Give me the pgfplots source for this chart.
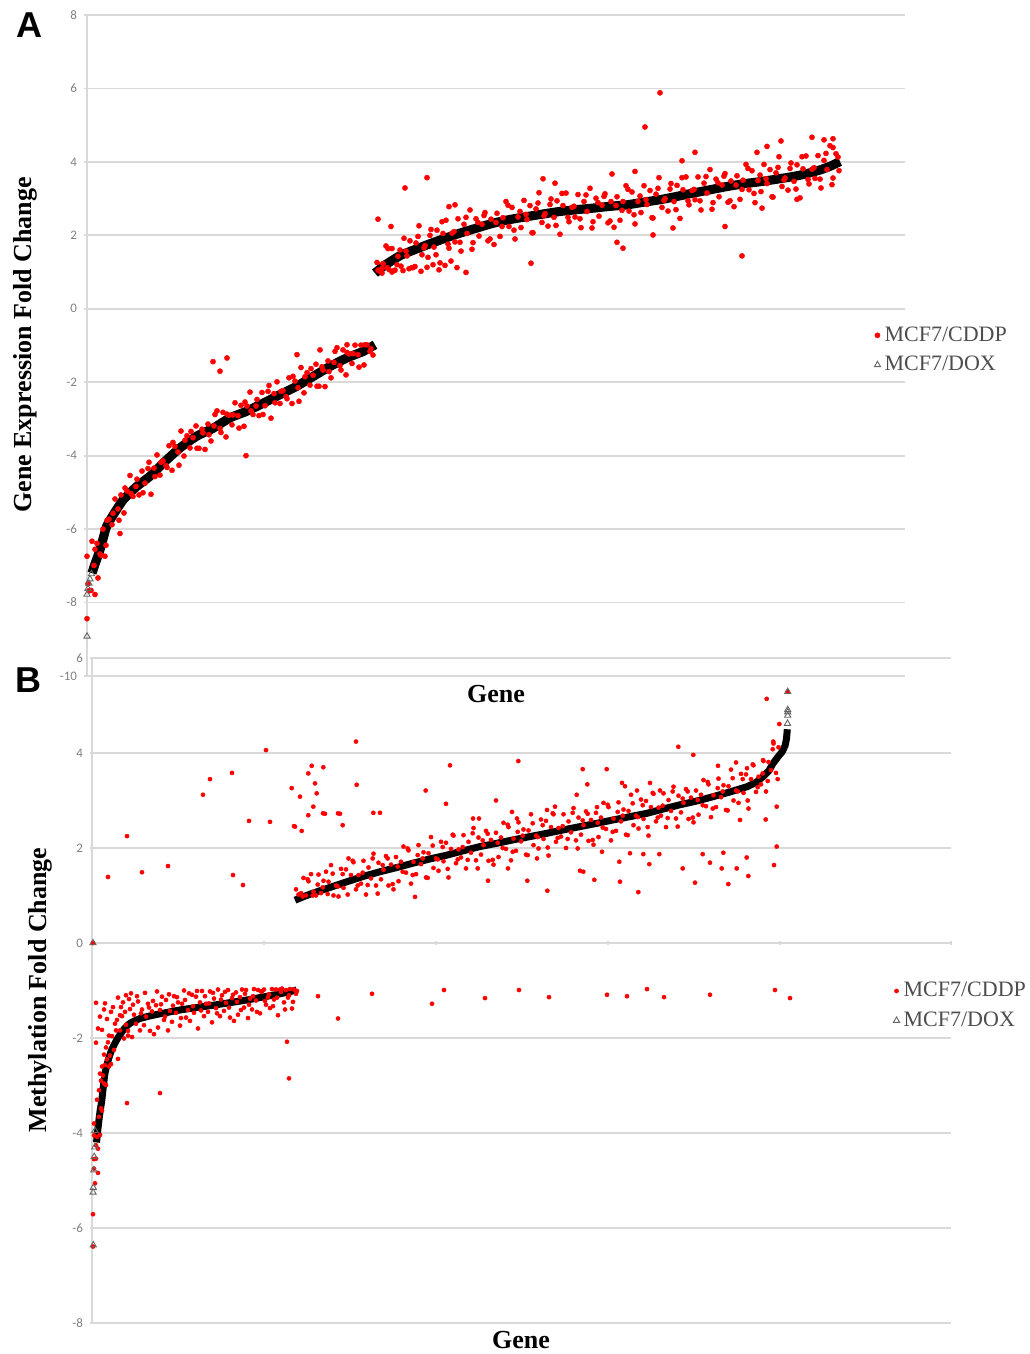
\documentclass[border=0pt]{standalone}
\usepackage{pgfplots}
\pgfplotsset{compat=1.18}
\usepackage{fontspec}
\setmainfont{Liberation Serif}
\newfontfamily\ticksfont{Carlito}
\newfontfamily\panelfont{Liberation Sans}
\definecolor{gridgray}{HTML}{D9D9D9}
\definecolor{tickgray}{HTML}{808080}
\definecolor{legtext}{HTML}{4D4D4D}
\pgfplotsset{
  common/.style={
    scale only axis, clip=false,
    ymajorgrids, grid style={gridgray, line width=0.9pt},
    tick style={draw=gridgray, line width=0.9pt},
    tick align=outside,
    /pgf/number format/assume math mode=true,
    yticklabel style={font=\ticksfont\fontsize{6.5}{7}\selectfont, text=tickgray},
    legend cell align=left,
    legend image code/.code={\draw[#1] plot coordinates {(0pt,0pt)};},
  },
  redA/.style={only marks, color=red, mark=*, mark size=1.3pt, mark options={solid, draw=red, fill=red, line width=0.2pt}},
  redB/.style={only marks, color=red, mark=*, mark size=1.05pt, mark options={solid, draw=red, fill=red, line width=0.2pt}},
  dox/.style={only marks, color=black!60, mark=triangle, mark size=1.8pt, mark options={solid, draw=black!60, line width=0.45pt, fill=none}},
}
\begin{document}
\begin{tikzpicture}
\useasboundingbox (0,0) rectangle (514.5pt,677pt);
% ---------------- Panel A ----------------
\begin{axis}[common,
  at={(43.5pt,339pt)}, anchor=south west,
  width=409pt, height=330.5pt,
  xmin=0, xmax=818, ymin=-10, ymax=8,
  ytick={-10,-8,...,8},
  axis y line=left, axis x line=none,
  axis line style={-, draw=gridgray, line width=0.9pt},
  y axis line style={-}, 
  major tick length=3pt,
  legend style={at={(0.962,0.493)}, anchor=west, draw=none, fill=none,
    font=\fontsize{11}{13}\selectfont, text=legtext, row sep=2pt, inner sep=0pt},
]
\addplot[redA] coordinates {
(1,-7.49) (4,-7.67) (7,-6.99) (10,-6.39) (13,-6.68) (16,-6.00) (19,-6.44) (22,-5.73) (25,-5.88) (28,-5.18)
(31,-5.45) (34,-5.07) (37,-5.56) (40,-4.96) (43,-4.54) (46,-5.11) (49,-4.84) (52,-5.07) (55,-4.42) (58,-4.75)
(61,-4.35) (64,-5.05) (67,-4.34) (70,-3.98) (73,-4.53) (76,-4.14) (79,-4.27) (82,-3.73) (85,-4.40) (88,-3.75)
(91,-3.90) (94,-3.33) (97,-4.01) (100,-3.46) (103,-3.79) (106,-3.51) (109,-3.19) (112,-3.80) (115,-3.28) (118,-3.83)
(121,-3.14) (124,-3.60) (127,-3.19) (130,-2.78) (133,-3.26) (136,-2.82) (139,-3.49) (142,-2.90) (145,-3.16) (148,-2.56)
(151,-2.91) (154,-2.63) (157,-3.20) (160,-2.65) (163,-2.27) (166,-2.88) (169,-2.65) (172,-2.91) (175,-2.28) (178,-2.64)
(181,-2.25) (184,-2.98) (187,-2.31) (190,-1.99) (193,-2.58) (196,-2.23) (199,-2.39) (202,-1.88) (205,-2.58) (208,-1.97)
(211,-2.15) (214,-1.60) (217,-2.29) (220,-1.74) (223,-2.08) (226,-1.81) (229,-1.51) (232,-2.11) (235,-1.58) (238,-2.12)
(241,-1.42) (244,-1.88) (247,-1.46) (250,-1.06) (253,-1.55) (256,-1.12) (259,-1.80) (262,-1.23) (265,-1.49) (268,-0.99)
(271,-1.25) (274,-0.99) (277,-1.53) (280,-0.98) (283,-1.16) (286,-1.26)
(2,-7.68) (8,-6.55) (14,-6.71) (20,-5.76) (26,-5.57) (32,-5.76) (38,-4.88) (44,-5.03) (50,-4.64) (56,-5.01)
(62,-4.18) (68,-4.57) (74,-4.18) (80,-4.32) (86,-3.64) (92,-4.26) (98,-3.58) (104,-3.34) (110,-3.80) (116,-3.38)
(122,-3.43) (128,-2.88) (134,-3.37) (140,-2.87) (146,-2.89) (152,-3.25) (158,-2.54) (164,-2.78) (170,-2.47) (176,-2.88)
(182,-2.09) (188,-2.56) (194,-2.25) (200,-2.45) (206,-1.84) (212,-2.52) (218,-1.85) (224,-1.63) (230,-2.11) (236,-1.67)
(242,-1.71) (248,-1.16) (254,-1.67) (260,-1.19) (266,-1.22) (272,-1.59) (278,-0.98) (284,-1.09)
(0,-8.44) (8,-7.78) (11,-7.33) (18,-6.74) (33,-6.12) (5,-6.33) (0,-6.74) (126,-1.44) (140,-1.34) (133,-1.70)
(159,-4.00) (233,-1.12) (260,-0.98) (210,-1.25)
(290,1.26) (293,1.02) (296,1.23) (299,1.71) (302,1.07) (305,1.64) (308,1.05) (311,1.43) (314,1.16) (317,1.92)
(320,1.44) (323,1.85) (326,1.12) (329,1.79) (332,2.26) (335,1.47) (338,1.72) (341,1.40) (344,2.16) (347,1.68)
(350,2.14) (353,1.25) (356,2.05) (359,2.41) (362,1.65) (365,2.06) (368,1.82) (371,2.45) (374,1.57) (377,2.30)
(380,2.05) (383,2.69) (386,1.80) (389,2.45) (392,1.98) (395,2.30) (398,2.62) (401,1.85) (404,2.44) (407,1.75)
(410,2.60) (413,1.97) (416,2.48) (419,2.92) (422,2.24) (425,2.76) (428,1.90) (431,2.50) (434,2.21) (437,2.95)
(440,2.43) (443,2.81) (446,2.07) (449,2.72) (452,3.16) (455,2.35) (458,2.59) (461,2.25) (464,2.99) (467,2.49)
(470,2.94) (473,2.03) (476,2.81) (479,3.15) (482,2.37) (485,2.76) (488,2.50) (491,3.11) (494,2.21) (497,2.92)
(500,2.65) (503,3.28) (506,2.37) (509,3.01) (512,2.52) (515,2.82) (518,3.13) (521,2.34) (524,2.92) (527,2.22)
(530,3.05) (533,2.41) (536,2.92) (539,3.35) (542,2.66) (545,3.18) (548,2.31) (551,2.92) (554,2.62) (557,3.35)
(560,2.84) (563,3.22) (566,2.47) (569,3.12) (572,3.57) (575,2.76) (578,3.00) (581,2.66) (584,3.41) (587,2.92)
(590,3.36) (593,2.46) (596,3.24) (599,3.59) (602,2.83) (605,3.22) (608,2.97) (611,3.59) (614,2.69) (617,3.42)
(620,3.15) (623,3.79) (626,2.89) (629,3.53) (632,3.05) (635,3.37) (638,3.68) (641,2.90) (644,3.48) (647,2.78)
(650,3.62) (653,2.98) (656,3.50) (659,3.93) (662,3.24) (665,3.76) (668,2.89) (671,3.49) (674,3.19) (677,3.93)
(680,3.41) (683,3.79) (686,3.04) (689,3.70) (692,4.14) (695,3.33) (698,3.56) (701,3.23) (704,3.97) (707,3.47)
(710,3.92) (713,3.02) (716,3.81) (719,4.16) (722,3.40) (725,3.80) (728,3.55) (731,4.17) (734,3.29) (737,4.04)
(740,3.79) (743,4.44) (746,3.56) (749,4.22) (752,3.76)
(295,0.97) (301,1.64) (307,1.04) (313,1.60) (319,1.57) (325,1.12) (331,1.97) (337,1.66) (343,2.00) (349,1.47)
(355,2.37) (361,1.76) (367,2.10) (373,1.81) (379,2.49) (385,1.62) (391,2.35) (397,2.54) (403,1.90) (409,2.35)
(415,2.24) (421,2.82) (427,2.14) (433,2.65) (439,2.57) (445,2.07) (451,2.88) (457,2.53) (463,2.84) (469,2.27)
(475,3.14) (481,2.49) (487,2.79) (493,2.45) (499,3.10) (505,2.20) (511,2.89) (517,3.06) (523,2.39) (529,2.81)
(535,2.68) (541,3.25) (547,2.56) (553,3.07) (559,2.97) (565,2.48) (571,3.28) (577,2.95) (583,3.26) (589,2.70)
(595,3.57) (601,2.94) (607,3.25) (613,2.94) (619,3.60) (625,2.71) (631,3.43) (637,3.61) (643,2.94) (649,3.37)
(655,3.25) (661,3.82) (667,3.14) (673,3.64) (679,3.54) (685,3.05) (691,3.85) (697,3.51) (703,3.82) (709,3.26)
(715,4.14) (721,3.52) (727,3.84) (733,3.53) (739,4.23) (745,3.38) (751,4.13)
(725,4.67) (737,4.60) (746,4.63) (746,4.39) (694,4.57) (680,4.42) (670,4.26) (608,4.26) (595,4.03)
(573,5.88) (558,4.95) (318,3.29) (340,3.57) (291,2.44) (304,2.24) (655,1.44) (638,2.24) (566,2.01) (530,1.81)
(536,1.65) (444,1.24) (379,0.99) (362,2.78) (368,2.83) (456,3.54) (468,3.42) (548,3.74) (525,3.67) (586,2.20)
(710,2.98) (675,2.74)
(291,1.05) (295,1.10) (300,1.12) (305,1.00) (310,1.20) (316,1.04) (322,1.09) (328,1.15) (334,1.02) (340,1.13)
(346,1.20) (352,1.06) (358,1.18) (364,1.30) (370,1.12)
};
\addlegendentry{MCF7/CDDP}
\addplot[forget plot, black, line width=4.6pt, line join=round, smooth, tension=0.35] coordinates {
(5,-7.20) (8,-6.95) (10,-6.80) (13,-6.56) (16.5,-6.22) (19.7,-5.92) (26.3,-5.61) (36.3,-5.20) (49.7,-4.84) (63,-4.56)
(76.3,-4.20) (93,-3.79) (109.7,-3.47) (126.3,-3.25) (143,-2.97) (159.7,-2.79) (176.3,-2.57) (193,-2.34) (209.7,-2.11)
(226.3,-1.84) (243,-1.57) (259.7,-1.34) (276.3,-1.16) (288,-0.98)
};
\addplot[forget plot, black, line width=4.6pt, line join=round, smooth, tension=0.35] coordinates {
(288,0.97) (297,1.17) (306,1.33) (314,1.46) (323,1.56) (340,1.74) (356,1.90) (373,2.06) (390,2.20) (406,2.33)
(423,2.43) (440,2.51) (456,2.58) (473,2.65) (490,2.70) (506,2.74) (523,2.79) (540,2.83) (556,2.90) (573,2.97)
(590,3.06) (606,3.15) (623,3.24) (640,3.33) (656,3.40) (673,3.46) (690,3.53) (706,3.60) (720,3.68) (733,3.78)
(743,3.88) (753,4.01)
};
\addplot[dox] coordinates {
(0,-8.92) (0,-7.78) (1,-7.62) (2,-7.48) (3,-7.36) (4.5,-7.22)
};
\addlegendentry{MCF7/DOX}
\end{axis}
% ---------------- Panel B ----------------
\begin{axis}[common,
  at={(46pt,15.5pt)}, anchor=south west,
  width=429.5pt, height=332.5pt,
  xmin=0, xmax=859, ymin=-8, ymax=6,
  ytick={-8,-6,...,6},
  xtick={172,344,516,688,859}, xticklabels={},
  axis y line=left, axis x line=middle,
  axis line style={-, draw=gridgray, line width=0.9pt},
  x axis line style={-}, y axis line style={-},
  major tick length=2pt,
  legend style={at={(0.9325,0.477)}, anchor=west, draw=none, fill=none,
    font=\fontsize{11}{13}\selectfont, text=legtext, row sep=2pt, inner sep=0pt},
]
\addplot[redB] coordinates {
(2,-4.75) (3,-5.06) (4,-4.54) (5,-4.08) (6,-4.33) (7,-3.66) (8,-4.04) (9,-3.48) (10,-3.53) (11,-2.79)
(12,-2.96) (13,-2.57) (14,-2.99) (15,-2.45) (16,-2.09) (17,-2.60) (18,-2.37) (19,-2.55) (20,-1.96) (22,-2.25)
(24,-1.84) (26,-2.44) (28,-1.84) (30,-1.54) (32,-2.01) (34,-1.72) (36,-1.85) (38,-1.39) (40,-1.98) (42,-1.51)
(44,-1.70) (46,-1.23) (48,-1.84) (50,-1.40) (52,-1.73) (54,-1.55) (56,-1.28) (58,-1.85) (60,-1.44) (62,-1.92)
(64,-1.31) (66,-1.78) (68,-1.41) (70,-1.13) (72,-1.62) (74,-1.20) (76,-1.84) (78,-1.43) (80,-1.66) (82,-1.12)
(84,-1.47) (86,-1.25) (88,-1.74) (90,-1.28) (92,-1.00) (94,-1.57) (96,-1.41) (98,-1.64) (100,-1.09) (102,-1.47)
(104,-1.13) (106,-1.80) (108,-1.25) (110,-1.01) (112,-1.54) (114,-1.28) (116,-1.45) (118,-1.02) (120,-1.67) (122,-1.17)
(124,-1.37) (126,-0.98) (128,-1.54) (130,-1.10) (132,-1.43) (134,-1.26) (136,-0.99) (138,-1.57) (140,-1.16) (142,-1.64)
(144,-1.04) (146,-1.51) (148,-1.14) (150,-0.98) (152,-1.36) (154,-0.99) (156,-1.58) (158,-1.17) (160,-1.40) (162,-0.97)
(164,-1.21) (166,-0.99) (168,-1.48) (170,-1.02) (172,-0.98) (174,-1.30) (176,-1.14) (178,-1.37) (180,-0.97) (182,-1.19)
(184,-0.98) (186,-1.52) (188,-0.98) (190,-0.96) (192,-1.25) (194,-0.99) (196,-1.15) (198,-0.97) (200,-1.38) (202,-0.98)
(204,-1.07)
(25,-1.62) (29,-1.35) (33,-1.45) (37,-1.18) (41,-1.30) (45,-1.12) (49,-1.48) (53,-1.05) (57,-1.36) (61,-1.22)
(65,-1.02) (69,-1.29) (73,-1.55) (77,-1.08) (81,-1.32) (85,-1.14) (89,-1.58) (93,-1.20) (97,-1.06) (101,-1.33)
(105,-1.01) (109,-1.42) (113,-1.12) (117,-1.27) (121,-1.05) (125,-1.48) (129,-1.19) (133,-1.03) (137,-1.36) (141,-1.09)
(145,-1.24) (149,-1.41) (153,-1.07) (157,-1.30) (161,-1.12) (165,-1.45) (169,-1.02) (173,-1.22) (177,-1.08) (181,-1.33)
(185,-1.15) (189,-1.03) (193,-1.40) (197,-1.10) (201,-1.24) (205,-1.01)
(4,-1.26) (4,-2.10) (6,-1.80) (8,-1.55) (10,-1.83) (12,-1.40) (13,-1.27) (15,-1.60) (17,-1.95) (19,-1.45)
(21,-1.35) (23,-1.70) (26,-1.15) (28,-1.52) (31,-1.25) (34,-1.10) (36,-1.95) (39,-1.06)
(2,-4.05) (4,-4.26) (2,-4.55) (6,-4.84) (1,-5.71) (1,-6.39) (2,-3.80) (5,-3.30) (7,-3.10) (9,-2.90)
(10,-2.60) (12,-2.35) (14,-2.20) (8,-2.75) (1,0)
(68,-3.16) (35,-3.37) (195,-2.08) (197,-2.85) (226,-1.12) (246,-1.59) (280,-1.07) (340,-1.28) (352,-0.99) (393,-1.16)
(427,-0.99) (457,-1.14) (515,-1.09) (535,-1.12) (555,-0.97) (572,-1.14) (618,-1.09) (683,-0.99) (698,-1.16)
(16,1.39) (35,2.25) (50,1.49) (76,1.62) (111,3.12) (118,3.45) (140,3.58) (141,1.43) (151,1.22) (157,2.57)
(174,4.06) (178,2.55)
(204,1.13) (206.5,1.02) (209,1.05) (211.5,1.37) (214,1.00) (216.5,1.30) (219,1.45) (221.5,1.08) (224,1.00) (226.5,1.44)
(229,1.05) (231.5,1.31) (234,1.50) (236.5,1.29) (239,1.64) (241.5,1.00) (244,1.21) (246.5,0.98) (249,1.56) (251.5,1.16)
(254,1.55) (256.5,1.78) (259,1.43) (261.5,1.70) (264,1.13) (266.5,1.43) (269,1.25) (271.5,1.73) (274,1.02) (276.5,1.59)
(279,1.36) (281.5,1.88) (284,1.21) (286.5,1.69) (289,1.34) (291.5,1.54) (294,1.83) (296.5,1.21) (299,1.65) (301.5,1.13)
(304,1.81) (306.5,1.30) (309,1.71) (311.5,2.03) (314,1.48) (316.5,1.95) (319,1.25) (321.5,1.71) (324,1.45) (326.5,2.06)
(329,1.66) (331.5,1.91) (334,1.38) (336.5,1.89) (339,2.23) (341.5,1.58) (344,1.78) (346.5,1.52) (349,2.13) (351.5,1.72)
(354,2.11) (356.5,1.38) (359,1.98) (361.5,2.26) (364,1.68) (366.5,1.97) (369,1.80) (371.5,2.27) (374,1.57) (376.5,2.13)
(379,1.90) (381.5,2.42) (384,1.74) (386.5,2.22) (389,1.86) (391.5,2.06) (394,2.36) (396.5,1.73) (399,2.17) (401.5,1.65)
(404,2.32) (406.5,1.81) (409,2.22) (411.5,2.53) (414,1.98) (416.5,2.44) (419,1.74) (421.5,2.20) (424,1.94) (426.5,2.54)
(429,2.14) (431.5,2.39) (434,1.86) (436.5,2.37) (439,2.71) (441.5,2.06) (444,2.26) (446.5,1.99) (449,2.60) (451.5,2.19)
(454,2.57) (456.5,1.84) (459,2.44) (461.5,2.71) (464,2.13) (466.5,2.42) (469,2.24) (471.5,2.71) (474,2.00) (476.5,2.56)
(479,2.33) (481.5,2.84) (484,2.16) (486.5,2.64) (489,2.28) (491.5,2.48) (494,2.77) (496.5,2.15) (499,2.59) (501.5,2.07)
(504,2.74) (506.5,2.23) (509,2.64) (511.5,2.95) (514,2.40) (516.5,2.86) (519,2.16) (521.5,2.62) (524,2.36) (526.5,2.96)
(529,2.56) (531.5,2.81) (534,2.28) (536.5,2.78) (539,3.12) (541.5,2.48) (544,2.68) (546.5,2.41) (549,3.02) (551.5,2.61)
(554,2.99) (556.5,2.26) (559,2.86) (561.5,3.14) (564,2.56) (566.5,2.85) (569,2.68) (571.5,3.15) (574,2.44) (576.5,3.01)
(579,2.78) (581.5,3.29) (584,2.62) (586.5,3.10) (589,2.75) (591.5,2.95) (594,3.24) (596.5,2.61) (599,3.06) (601.5,2.54)
(604,3.21) (606.5,2.70) (609,3.12) (611.5,3.43) (614,2.88) (616.5,3.34) (619,2.65) (621.5,3.11) (624,2.86) (626.5,3.46)
(629,3.07) (631.5,3.32) (634,2.80) (636.5,3.30) (639,3.65) (641.5,3.00) (644,3.21) (646.5,2.95) (649,3.56) (651.5,3.16)
(654,3.55) (656.5,2.83) (659,3.45) (661.5,3.74) (664,3.18) (666.5,3.50) (669,3.34) (671.5,3.83) (674,3.19) (676.5,3.81)
(679,3.64) (681.5,4.20) (684,3.58) (686.5,4.12)
(210.7,0.98) (215.7,1.34) (220.7,1.00) (225.7,1.23) (230.7,1.17) (235.7,1.03) (240.7,1.46) (245.7,1.19) (250.7,1.45) (255.7,1.02)
(260.7,1.73) (265.7,1.21) (270.7,1.48) (275.7,1.22) (280.7,1.78) (285.7,1.04) (290.7,1.64) (295.7,1.78) (300.7,1.24) (305.7,1.61)
(310.7,1.50) (315.7,1.99) (320.7,1.43) (325.7,1.85) (330.7,1.78) (335.7,1.37) (340.7,2.05) (345.7,1.76) (350.7,2.02) (355.7,1.56)
(360.7,2.28) (365.7,1.76) (370.7,2.02) (375.7,1.75) (380.7,2.31) (385.7,1.57) (390.7,2.16) (395.7,2.30) (400.7,1.75) (405.7,2.11)
(410.7,2.00) (415.7,2.49) (420.7,1.92) (425.7,2.34) (430.7,2.26) (435.7,1.85) (440.7,2.52) (445.7,2.23) (450.7,2.48) (455.7,2.01)
(460.7,2.73) (465.7,2.21) (470.7,2.46) (475.7,2.19) (480.7,2.74) (485.7,1.99) (490.7,2.58) (495.7,2.72) (500.7,2.17) (505.7,2.53)
(510.7,2.43) (515.7,2.91) (520.7,2.34) (525.7,2.76) (530.7,2.68) (535.7,2.27) (540.7,2.94) (545.7,2.65) (550.7,2.90) (555.7,2.44)
(560.7,3.16) (565.7,2.64) (570.7,2.89) (575.7,2.63) (580.7,3.19) (585.7,2.45) (590.7,3.04) (595.7,3.19) (600.7,2.64) (605.7,3.01)
(610.7,2.90) (615.7,3.39) (620.7,2.83) (625.7,3.26) (630.7,3.19) (635.7,2.79) (640.7,3.47) (645.7,3.19) (650.7,3.45) (655.7,3.00)
(660.7,3.76) (665.7,3.28) (670.7,3.57) (675.7,3.41) (680.7,4.08) (685.7,3.45)
(199.7,3.26) (216.3,3.57) (219.7,3.73) (231.3,3.70) (223,3.36) (224.7,3.15) (202,2.46) (209.7,2.36) (216.3,2.69) (221.3,2.87)
(233,2.72) (248,2.72) (250.7,2.48) (264,4.24) (264.7,3.33) (281.3,2.74) (288,2.74) (358,3.74) (354,2.93) (333.7,3.21)
(426.3,3.83) (404,3.00) (484.7,3.12) (490.7,3.66) (495.3,3.34) (514.7,3.66) (586.3,4.13) (601.3,3.96) (203,2.45) (208,3.08)
(231,2.73) (246,2.73)
(323,0.97) (455.3,1.10) (435.3,1.31) (502.3,1.33) (528,1.29) (546.3,1.07) (603,1.27) (636.3,1.24) (656.3,1.41) (682,1.64)
(590.7,1.57) (618,1.69) (629.7,1.57) (644.7,1.57) (557.3,1.66) (551.3,1.87) (567.3,1.87) (538,1.89) (527.3,1.71) (491.3,1.50)
(684.7,2.03) (684.7,2.87) (674.7,5.14) (687.3,4.61) (681.3,4.24) (610.7,1.87) (631.3,1.90) (654.7,1.80) (673.7,2.60) (648,2.59)
(381,2.62) (387,2.62) (420,2.76) (425,2.62) (455,2.80) (463,2.87) (505,2.86) (530,3.37) (533,3.30) (545,3.21)
(568,3.21) (558,3.37) (626,3.73) (644,3.80) (655,3.68) (671,3.85) (416,1.57) (396,1.31) (445,1.78) (488,1.52)
(510,1.92) (695.7,5.29)
};
\addlegendentry{MCF7/CDDP}
\addplot[forget plot, black, line width=3.5pt, line join=round, smooth, tension=0.3] coordinates {
(4.5,-4.20) (6,-3.90) (8,-3.55) (9.7,-3.33) (11.3,-3.03) (13,-2.74) (16.3,-2.46) (19.7,-2.25) (24.7,-2.04) (31.3,-1.83) (38,-1.69)
(48,-1.59) (61.3,-1.52) (88,-1.41) (121.3,-1.31) (154.7,-1.20) (188,-1.07) (204.7,-0.99)
};
\addplot[forget plot, black, line width=3.5pt, line join=round] coordinates {
(203,0.90) (212,0.98) (221,1.05) (238,1.17) (255,1.29) (271,1.40) (288,1.50) (305,1.59) (321,1.68) (338,1.77)
(355,1.85) (371,1.94) (388,2.03) (405,2.10) (421,2.17) (438,2.24) (455,2.31) (471,2.38) (488,2.45) (505,2.52)
(521,2.59) (538,2.66) (555,2.73) (571,2.82) (588,2.91) (605,2.99) (621,3.08) (638,3.18) (655,3.29) (664,3.38)
(671,3.50) (677,3.63) (681,3.78) (686,3.92) (690,4.02) (693,4.15) (694.5,4.30) (695.3,4.50)
};
\addplot[dox] coordinates {
(1,0) (1.3,-6.36) (1.1,-5.25) (1.3,-5.15) (1.8,-4.78) (2.2,-4.50) (2.7,-4.30) (3,-3.95)
(695.5,4.62) (695.7,4.79) (695.7,4.86) (695.7,4.91) (695.7,5.29)
};
\addlegendentry{MCF7/DOX}
\end{axis}
% ---------------- Labels ----------------
\node[font=\panelfont\bfseries\fontsize{18}{20}\selectfont] at (14.5pt,664.5pt) {A};
\node[font=\panelfont\bfseries\fontsize{18}{20}\selectfont] at (14pt,337pt) {B};
\node[rotate=90, font=\bfseries\fontsize{13}{15}\selectfont] at (12.5pt,504.5pt) {Gene Expression Fold Change};
\node[rotate=90, font=\bfseries\fontsize{13}{15}\selectfont] at (20pt,182pt) {Methylation Fold Change};
\node[font=\bfseries\fontsize{13}{15}\selectfont] at (248pt,330pt) {Gene};
\node[font=\bfseries\fontsize{13}{15}\selectfont] at (260.5pt,7pt) {Gene};
\end{tikzpicture}
\end{document}
